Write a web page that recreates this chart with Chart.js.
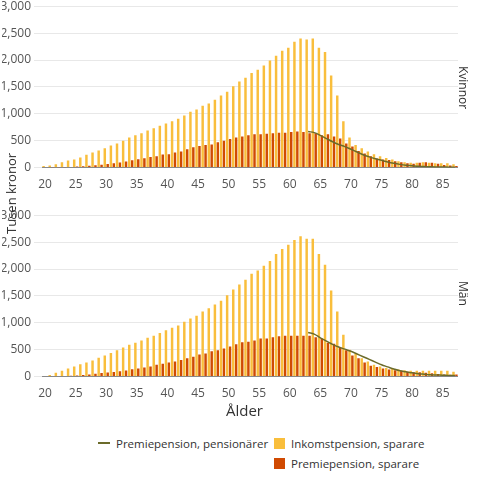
<!DOCTYPE html>
<html>
<head>
<meta charset="utf-8">
<script src="https://cdn.jsdelivr.net/npm/chart.js@4"></script>
<style>
body{margin:0;width:480px;height:480px;position:relative;background:#fff;font-family:"Open Sans",sans-serif;color:#333;}
.box{position:absolute;left:2px;width:456px;height:198px;}
.side{position:absolute;font-size:12px;transform:rotate(90deg);transform-origin:left top;white-space:nowrap;}
.leg{position:absolute;font-size:11.5px;white-space:nowrap;}
.sw{display:inline-block;width:11px;height:11px;vertical-align:-1px;margin-right:6px;}
</style>
</head>
<body>
<div class="box" style="top:-4px"><canvas id="c1"></canvas></div>
<div class="box" style="top:205px"><canvas id="c2"></canvas></div>
<div style="position:absolute;left:2px;top:234px;transform:rotate(-90deg);transform-origin:left top;font-size:13px;white-space:nowrap">Tusen kronor</div>
<div class="side" style="left:472px;top:66px">Kvinnor</div>
<div class="side" style="left:472px;top:281px">Män</div>
<div style="position:absolute;left:226px;top:400px;font-size:15px">Ålder</div>
<div class="leg" style="left:98px;top:436px"><span style="display:inline-block;width:12px;border-top:2px solid #6b6b2a;vertical-align:4px;margin-right:6px"></span>Premiepension, pensionärer</div>
<div class="leg" style="left:274px;top:436px"><span class="sw" style="background:#f9be3c"></span>Inkomstpension, sparare</div>
<div class="leg" style="left:274px;top:456px"><span class="sw" style="background:#d04a02"></span>Premiepension, sparare</div>
<script>
var ages = [];
for (var a = 20; a <= 87; a++) ages.push(a);

var kvinnorInkomst = [30,40,60,100,130,150,190,240,280,320,360,410,450,500,560,600,640,690,730,780,820,860,910,970,1040,1080,1150,1190,1260,1340,1410,1510,1600,1670,1760,1820,1900,1990,2080,2170,2230,2340,2400,2380,2400,2230,2150,1710,1340,860,560,420,360,300,250,210,180,150,120,100,90,90,100,90,80,80,80,60];
var kvinnorPremie = [0,5,5,5,10,20,25,35,45,55,65,80,95,115,135,155,175,195,210,245,250,280,300,340,380,400,420,430,470,500,530,560,580,600,620,620,630,640,650,650,660,670,660,640,640,600,620,580,540,450,390,310,260,210,170,150,140,120,100,80,70,90,100,90,70,50,40,30];
var kvinnorPension = [670,650,600,540,480,430,390,340,290,240,200,165,135,105,80,60,45,35,25,20,15,12,10,8,5];

var manInkomst = [10,30,70,110,150,190,230,260,300,350,390,440,490,540,590,630,670,720,760,810,860,910,950,1020,1080,1130,1210,1270,1340,1410,1510,1620,1710,1800,1910,1970,2060,2150,2280,2370,2450,2540,2610,2560,2560,2280,2080,1600,1210,780,500,420,340,280,220,190,160,150,130,120,110,110,110,110,110,110,110,90];
var manPremie = [0,0,0,10,15,20,30,40,55,65,75,85,100,115,135,150,170,190,220,240,260,280,310,340,370,410,430,470,490,520,560,600,640,650,670,710,710,730,750,760,760,760,760,760,730,710,630,610,540,490,390,340,260,200,180,150,130,120,110,90,80,80,70,60,50,40,35,40];
var manPension = [820,790,720,660,600,550,510,470,420,370,320,270,220,180,140,110,90,70,55,45,35,30,25,20,20];

var yTicks = [0,500,1000,1500,2000,2500,3000];
var pensionStart = 63;

function padLine(vals){
    //null until age 63, then the pensioner line
    return ages.map(function(a){ return a < pensionStart ? null : vals[a - pensionStart]; });
}

function makeChart(id, inkomst, premie, pension){
    var ctx = document.getElementById(id).getContext('2d');
    return new Chart(ctx, {
        type: 'bar',
        data: {
            labels: ages,
            datasets: [{
                type: 'line',
                label: 'Premiepension, pensionärer',
                data: padLine(pension),
                borderColor: '#6b6b2a',
                borderWidth: 1.5,
                pointRadius: 0,
                tension: 0.4,
                order: 0
            }, {
                label: 'Inkomstpension, sparare',
                data: inkomst,
                backgroundColor: '#f9be3c',
                order: 1
            }, {
                label: 'Premiepension, sparare',
                data: premie,
                backgroundColor: '#d04a02',
                order: 1
            }]
        },
        options: {
            responsive: true,
            maintainAspectRatio: false,
            animation: false,
            plugins: { legend: { display: false }, tooltip: { enabled: false } },
            datasets: { bar: { categoryPercentage: 0.95, barPercentage: 0.85, grouped: true } },
            scales: {
                x: {
                    grid: { display: false },
                    border: { color: '#888' },
                    ticks: {
                        autoSkip: false, maxRotation: 0, color: '#555', padding: 2,
                        font: { size: 12, family: 'Open Sans' },
                        callback: function(v, i){ return ages[i] % 5 == 0 ? ages[i] : ''; }
                    }
                },
                y: {
                    min: 0, max: 3000,
                    afterBuildTicks: function(s){ s.ticks = yTicks.map(function(v){ return {value: v}; }); },
                    afterFit: function(s){ s.width = 40; },
                    grid: { color: '#e8e8e8' },
                    border: { display: false },
                    ticks: { color: '#555', padding: 3, font: { size: 12, family: 'Open Sans' } }
                }
            }
        }
    });
}

makeChart('c1', kvinnorInkomst, kvinnorPremie, kvinnorPension);
makeChart('c2', manInkomst, manPremie, manPension);
</script>
</body>
</html>
